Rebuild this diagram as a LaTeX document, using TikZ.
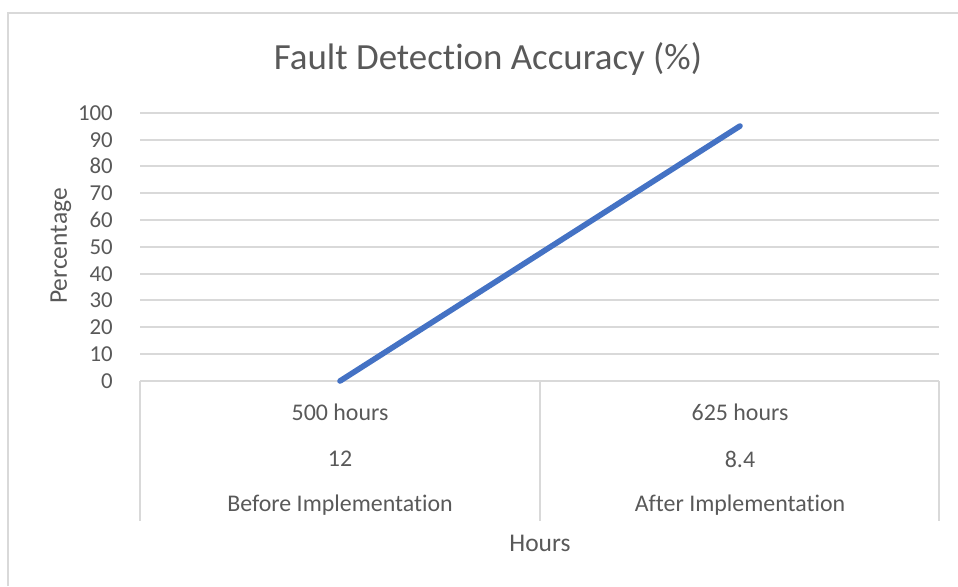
\documentclass[tikz,border=0pt]{standalone}
\usepackage{fontspec}
\setmainfont[Ligatures=NoCommon]{Carlito}
\definecolor{fdgrid}{HTML}{D9D9D9}
\definecolor{fdtext}{HTML}{595959}
\definecolor{fdline}{HTML}{4472C4}
\begin{document}
\begin{tikzpicture}[x=0.02cm,y=-0.02cm,font=\fontsize{13}{15}\selectfont,text=fdtext]
\path[use as bounding box] (0,0) rectangle (958,586);
\draw[fdgrid,line width=1.2pt] (8,586)--(8,13)--(958,13);
\node[font=\fontsize{21}{25}\selectfont] (title) at (488,59) {Fault Detection Accuracy (\%)};
\draw[fdgrid,line width=.9pt] (140,113)--(939,113);
\node[anchor=east] (t100) at (119,113) {100};
\draw[fdgrid,line width=.9pt] (140,140)--(939,140);
\node[anchor=east] (t90) at (119,140) {90};
\draw[fdgrid,line width=.9pt] (140,166)--(939,166);
\node[anchor=east] (t80) at (119,166) {80};
\draw[fdgrid,line width=.9pt] (140,193)--(939,193);
\node[anchor=east] (t70) at (119,193) {70};
\draw[fdgrid,line width=.9pt] (140,220)--(939,220);
\node[anchor=east] (t60) at (119,220) {60};
\draw[fdgrid,line width=.9pt] (140,247)--(939,247);
\node[anchor=east] (t50) at (119,247) {50};
\draw[fdgrid,line width=.9pt] (140,274)--(939,274);
\node[anchor=east] (t40) at (119,274) {40};
\draw[fdgrid,line width=.9pt] (140,300)--(939,300);
\node[anchor=east] (t30) at (119,300) {30};
\draw[fdgrid,line width=.9pt] (140,327)--(939,327);
\node[anchor=east] (t20) at (119,327) {20};
\draw[fdgrid,line width=.9pt] (140,354)--(939,354);
\node[anchor=east] (t10) at (119,354) {10};
\draw[fdgrid,line width=.9pt] (140,381)--(939,381);
\node[anchor=east] (t0) at (119,381) {0};
\node[rotate=90,font=\fontsize{14.5}{17}\selectfont] (ylabel) at (61,246) {Percentage};
\draw[fdgrid,line width=.9pt] (140,381)--(140,521);
\draw[fdgrid,line width=.9pt] (540,381)--(540,521);
\draw[fdgrid,line width=.9pt] (939,381)--(939,521);
\node[font=\fontsize{13.6}{16}\selectfont] (hoursa) at (340,412) {500 hours};
\node[font=\fontsize{13.6}{16}\selectfont] (vala) at (340,459) {12};
\node[font=\fontsize{13.6}{16}\selectfont] (cata) at (340,505) {Before Implementation};
\node[font=\fontsize{13.6}{16}\selectfont] (hoursb) at (740,412) {625 hours};
\node[font=\fontsize{13.6}{16}\selectfont] (valb) at (740,459) {8.4};
\node[font=\fontsize{13.6}{16}\selectfont] (catb) at (740,505) {After Implementation};
\node[font=\fontsize{14.5}{17}\selectfont] (xlabel) at (540,543) {Hours};
\coordinate (before) at (340,381);
\coordinate (after) at (740,126);
\draw[fdline,line width=3.2pt,line cap=round] (before)--(after);
\end{tikzpicture}
\end{document}
